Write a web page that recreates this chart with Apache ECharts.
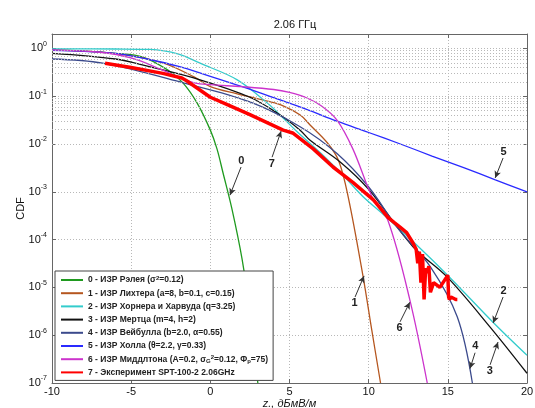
<!DOCTYPE html>
<html><head><meta charset="utf-8">
<script src="https://cdn.jsdelivr.net/npm/echarts@6/dist/echarts.min.js"></script>
<style>html,body{margin:0;padding:0;background:#fff}#c{width:535px;height:408px}</style>
</head><body><div id="c"></div>
<script>
const titleText = '2.06 ГГц';
const xName = 'z., дБмВ/м';
const yName = 'CDF';
const xMin = -10, xMax = 20, xStep = 5;
const yMin = 1e-7, yMax = 2;

const seriesNames = [
  '0 - ИЗР Рэлея (σ2=0.12)',
  '1 - ИЗР Лихтера (a=8, b=0.1, c=0.15)',
  '2 - ИЗР Хорнера и Харвуда (q=3.25)',
  '3 - ИЗР Мертца (m=4, h=2)',
  '4 - ИЗР Вейбулла (b=2.0, α=0.55)',
  '5 - ИЗР Холла (θ=2.2, γ=0.33)',
  '6 - ИЗР Миддлтона (A=0.2, σG2=0.12, Φp=75)',
  '7 - Эксперимент SPT-100-2 2.06GHz'
];
const legendRich = [
  '0 - ИЗР Рэлея (σ{sup|2}=0.12)',
  '1 - ИЗР Лихтера (a=8, b=0.1, c=0.15)',
  '2 - ИЗР Хорнера и Харвуда (q=3.25)',
  '3 - ИЗР Мертца (m=4, h=2)',
  '4 - ИЗР Вейбулла (b=2.0, α=0.55)',
  '5 - ИЗР Холла (θ=2.2, γ=0.33)',
  '6 - ИЗР Миддлтона (A=0.2, σ{sub|G}{sup|2}=0.12, Φ{sub|p}=75)',
  '7 - Эксперимент SPT-100-2 2.06GHz'
];
const colors = ['#1f9a1f','#b5561f','#33cccc','#111111','#3b4a8c','#2a2aff','#cc33cc','#ff0000'];

// 0 Rayleigh
const x0 = [-10,-8,-6,-4.25,-2.7,-1.73,-0.84,0,0.42,0.8,1.35,2,2.5,3];
const y0 = [0.93,0.88,0.79,0.66,0.355,0.19,0.0724,0.0195,7.9e-3,2.5e-3,4.6e-4,4e-5,3.2e-6,1e-7];
// 1 Lichter
const x1 = [-10,-6,-3,-1,0,1.7,3.6,4.6,5.7,6.3,7.4,8.1,8.7,9.65,10.2,10.75];
const y1 = [0.92,0.78,0.5,0.25,0.158,0.112,0.079,0.063,0.04,0.025,0.0105,4.5e-3,8e-4,1.66e-5,1.26e-6,1e-7];
// 2 Horner & Harvud
const x2 = [-10,-6,-3.8,-2,-0.65,1.7,3.6,4.6,5.5,7,8.5,9.65,11,13,15,17.9,20];
const y2 = [0.98,0.97,0.95,0.76,0.49,0.22,0.072,0.035,0.0178,6.3e-3,2e-3,7.9e-4,3.2e-4,7.9e-5,1.78e-5,1.8e-6,3.8e-7];
// 3 Mertz
const x3 = [-10,-6,-3.8,-0.65,2.5,4.2,5.67,6.3,8.2,10,12.8,14.95,17.67,20];
const y3 = [0.79,0.6,0.41,0.22,0.095,0.045,0.0195,0.012,4.2e-3,1.12e-3,7.1e-5,1.66e-5,1.48e-6,1.6e-7];
// 4 Weibull
const x4 = [-10,-6.8,-1.7,2.5,5.67,8,10,11.8,13.9,15.6,16.55];
const y4 = [0.6,0.49,0.19,0.076,0.023,6.3e-3,1.26e-3,1.8e-4,2.7e-5,2.4e-6,1e-7];
// 5 Hall
const x5 = [-10,-6,-4,-2,0,2,4,6,8,10,12,14,16,18,20];
const y5 = [0.91,0.79,0.6,0.42,0.26,0.158,0.093,0.054,0.03,0.0174,0.01,5.6e-3,3.2e-3,1.78e-3,1e-3];
// 6 Middleton
const x6 = [-10,-7,-5,-3,-2,-1,0,2,4,5,6,7,8,9,10.3,11.2,12.6,13.7];
const y6 = [0.93,0.83,0.63,0.35,0.25,0.19,0.174,0.158,0.138,0.12,0.095,0.063,0.0316,7.9e-3,6.8e-4,2.6e-4,5.5e-6,1e-7];
// 7 Experiment
const x7 = [-6.65,-5,-3,-1.8,-1.5,0,1,2.5,4.6,5.2,6.5,7.75,9,10.3,10.8,11.2,11.6,12,12.4,12.8,13.0,13.1,13.2,13.3,13.4,13.5,13.6,13.7,13.8,13.9,14.0,14.1,14.5,14.6,14.9,15.0,15.05,15.1,15.2,15.5,15.6];
const y7 = [0.49,0.4,0.3,0.24,0.21,0.095,0.068,0.041,0.0195,0.017,7.9e-3,3.3e-3,1.58e-3,6.8e-4,4.3e-4,2.95e-4,2.3e-4,1.8e-4,1.4e-4,8.5e-5,6.3e-5,3.2e-5,5.6e-5,1.26e-5,5e-5,5.6e-6,2.5e-5,2e-5,2.8e-5,7.9e-6,1e-5,1.26e-5,1e-5,1e-5,1.6e-5,1.8e-5,6.3e-6,5.6e-6,6.3e-6,5.6e-6,5.6e-6];

const xs = [x0,x1,x2,x3,x4,x5,x6,x7];
const ys = [y0,y1,y2,y3,y4,y5,y6,y7];

// annotation arrows: label, start point (label side), end point (arrow head)
const annLabels = ['0','7','1','6','2','3','4','5'];
const annFrom = [[1.94,3.3e-3],[3.9,5.3e-3],[9.14,6.3e-6],[11.98,1.9e-6],[18.49,6.3e-6],[17.67,2.4e-7],[16.72,4.3e-7],[18.49,5.1e-3]];
const annTo   = [[1.24,8.5e-4],[4.47,1.86e-2],[9.71,1.74e-5],[12.6,4.9e-6],[17.86,1.8e-6],[18.17,7.2e-7],[16.4,2.0e-7],[17.99,1.95e-3]];

const minorVals = [];
for (let n = -7; n <= 0; n++) for (let k = 2; k <= 9; k++) { const v = k * Math.pow(10, n); if (v < yMax) minorVals.push(v); }

const FONT = 'Liberation Sans, Arial, sans-serif';
const series = seriesNames.map((nm, i) => ({
  name: nm,
  type: 'line',
  data: xs[i].map((x, j) => [x, ys[i][j]]),
  showSymbol: false,
  symbol: 'none',
  smooth: i === 7 ? false : 0.35,
  lineStyle: { color: colors[i], width: i === 7 ? 3.5 : 1.3 },
  itemStyle: { color: colors[i] },
  z: i === 7 ? 5 : 3,
  animation: false
}));
series.push({
  name: 'minor', type: 'line', data: [], silent: true, z: 1,
  markLine: { silent: true, symbol: ['none','none'], animation: false, label: { show: false },
    lineStyle: { color: '#b8b8b8', type: [1, 2], width: 1 },
    data: minorVals.map(v => ({ yAxis: v })) }
});
series.push({
  name: 'annot', type: 'line', data: [], silent: true, z: 10,
  markLine: { silent: true, animation: false, symbol: ['none','arrow'], symbolSize: [5, 7],
    lineStyle: { color: '#333', type: 'solid', width: 1 },
    label: { show: true, position: 'start', color: '#222', fontWeight: 'bold', fontSize: 11, fontFamily: FONT, distance: 1 },
    data: annLabels.map((l, i) => [
      { coord: annFrom[i], label: { formatter: l } },
      { coord: annTo[i] }
    ]) }
});

const chart = echarts.init(document.getElementById('c'), null, { renderer: 'canvas' });
chart.setOption({
  backgroundColor: '#fff',
  animation: false,
  title: { text: titleText, left: 290, textAlign: 'center', top: 14,
    textStyle: { fontSize: 11, fontWeight: 'normal', color: '#111', fontFamily: FONT } },
  grid: { left: 52, right: 8, top: 34, bottom: 25, containLabel: false, outerBoundsMode: 'none' },
  legend: {
    data: seriesNames, orient: 'vertical', left: 55, top: 271,
    backgroundColor: '#fff', borderColor: '#444', borderWidth: 1, borderRadius: 0,
    padding: [4, 5, 3, 5], itemWidth: 22, itemHeight: 10, itemGap: 3.2,
    itemStyle: { opacity: 0 },
    formatter: nm => legendRich[seriesNames.indexOf(nm)],
    textStyle: { fontSize: 8.5, fontWeight: 'bold', color: '#222', fontFamily: FONT, lineHeight: 10,
      rich: {
        sup: { fontSize: 6, fontWeight: 'bold', verticalAlign: 'top', lineHeight: 10, fontFamily: FONT },
        sub: { fontSize: 6, fontWeight: 'bold', verticalAlign: 'bottom', lineHeight: 10, fontFamily: FONT }
      } }
  },
  xAxis: [{
    type: 'value', min: xMin, max: xMax, interval: xStep,
    name: xName, nameLocation: 'middle', nameGap: 15, nameMoveOverlap: false,
    nameTextStyle: { fontSize: 11, fontStyle: 'italic', color: '#111', fontFamily: FONT },
    axisLine: { show: true, onZero: false, lineStyle: { color: '#666' } },
    axisTick: { show: true, inside: true, length: 4, lineStyle: { color: '#666' } },
    axisLabel: { fontSize: 11, color: '#111', margin: 3, fontFamily: FONT },
    splitLine: { show: true, lineStyle: { color: '#b8b8b8', type: [1, 2] } }
  }, {
    type: 'value', min: xMin, max: xMax, interval: xStep, position: 'top',
    axisLine: { show: true, onZero: false, lineStyle: { color: '#666' } },
    axisTick: { show: true, inside: true, length: 4, lineStyle: { color: '#666' } },
    axisLabel: { show: false }, splitLine: { show: false }
  }],
  yAxis: [{
    type: 'log', logBase: 10, min: yMin, max: yMax,
    name: yName, nameLocation: 'middle', nameGap: 26, nameMoveOverlap: false,
    nameTextStyle: { fontSize: 11, color: '#111', fontFamily: FONT },
    axisLine: { show: true, onZero: false, lineStyle: { color: '#666' } },
    axisTick: { show: true, inside: true, length: 4, lineStyle: { color: '#666' } },
    axisLabel: { fontSize: 11, color: '#111', margin: 5, fontFamily: FONT,
      formatter: v => { const e = Math.log10(v); const r = Math.round(e);
        if (Math.abs(e - r) > 1e-6) return ''; return '10{e|' + r + '}'; },
      rich: { e: { fontSize: 7, verticalAlign: 'top', lineHeight: 16, fontFamily: FONT, color: '#111' } } },
    splitLine: { show: true, lineStyle: { color: '#b8b8b8', type: [1, 2] } }
  }, {
    type: 'log', logBase: 10, min: yMin, max: yMax, position: 'right',
    axisLine: { show: true, onZero: false, lineStyle: { color: '#666' } },
    axisTick: { show: true, inside: true, length: 4, lineStyle: { color: '#666' } },
    axisLabel: { show: false }, splitLine: { show: false }
  }],
  series: series
});
</script>
</body></html>
